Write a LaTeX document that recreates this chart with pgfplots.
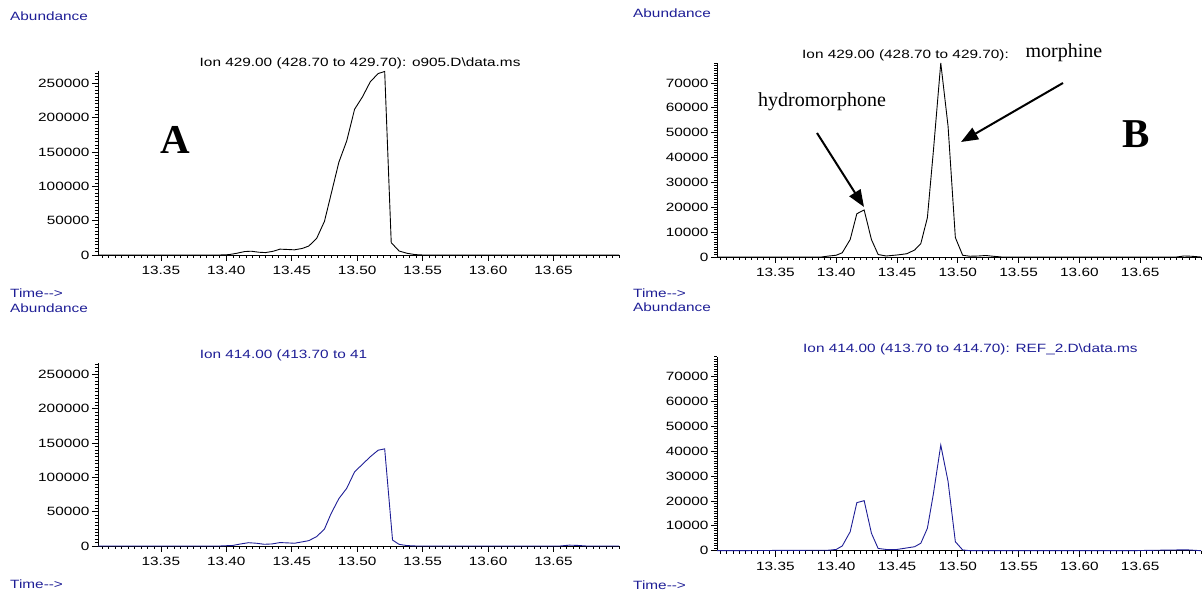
\documentclass[border=0pt]{standalone}
\usepackage{fontspec}
\setmainfont{Liberation Serif}
\newfontfamily\chem{Liberation Sans}[FakeStretch=1.28]
\usepackage{pgfplots}
\pgfplotsset{compat=1.18}
\usetikzlibrary{arrows.meta}
\definecolor{navy}{RGB}{30,30,150}

\newcommand{\sml}{\chem\fontsize{12}{13}\selectfont}

\pgfplotsset{
  chrom/.style={
    scale only axis, anchor=south west, clip=false,
    axis x line=bottom, axis y line=left,
    axis line style={-, line width=0.8pt, black},
    xmin=13.302, xmax=13.700, ymin=0,
    xtick={13.35,13.40,13.45,13.50,13.55,13.60,13.65},
    minor xtick={13.305,13.310,...,13.700},
    tick align=outside, major tick length=6pt, minor tick length=3pt,
    tick style={black, line width=0.6pt},
    scaled x ticks=false, scaled y ticks=false,
    tick label style={font=\sml, black},
    /pgf/number format/assume math mode=true,
    xticklabel style={yshift=-2pt, /pgf/number format/fixed, /pgf/number format/fixed zerofill,
                      /pgf/number format/precision=2},
    yticklabel style={xshift=1pt, /pgf/number format/fixed, /pgf/number format/1000 sep={}},
  },
  wide/.style={width=521pt, ymax=267000,
    ytick={0,50000,...,250000}, minor ytick={5000,10000,...,265000}},
  narrow/.style={width=484pt, ymax=78000,
    ytick={0,10000,...,70000}, minor ytick={1000,2000,...,78000}},
}

\begin{document}
\begin{tikzpicture}[x=1pt,y=1pt]
\useasboundingbox (0,0) rectangle (1202,593);

% top left: ion 429, sample
\begin{axis}[chrom, wide, at={(98pt,338pt)}, height=183.5pt]
\addplot[black, line width=0.9pt] coordinates {
  (13.302,0) (13.395,0) (13.402,500) (13.408,2500) (13.414,5000) (13.419,5500)
  (13.425,4000) (13.430,3500) (13.436,5500) (13.441,8500) (13.447,8000)
  (13.452,7500) (13.458,9500) (13.463,13000) (13.469,24000) (13.475,49000)
  (13.480,88000) (13.486,135000) (13.492,166000) (13.498,212000) (13.504,230000)
  (13.510,252000) (13.516,264000) (13.521,267000) (13.526,18000) (13.532,5800)
  (13.538,2500) (13.544,600) (13.550,0) (13.700,0) };
\end{axis}

% top right: ion 429, reference
\begin{axis}[chrom, narrow, at={(717pt,336pt)}, height=194pt]
\addplot[black, line width=0.9pt] coordinates {
  (13.302,0) (13.388,0) (13.394,400) (13.400,700) (13.405,1700) (13.4115,7000)
  (13.417,17400) (13.423,18900) (13.429,7000) (13.4345,1000) (13.441,400)
  (13.450,800) (13.458,1300) (13.4645,2800) (13.4696,5400) (13.475,15800)
  (13.480,43000) (13.486,78000) (13.492,52600) (13.498,7800) (13.504,700)
  (13.510,300) (13.517,400) (13.523,600) (13.529,300) (13.536,0) (13.680,0)
  (13.686,400) (13.692,300) (13.700,0) };
\end{axis}

% bottom left: ion 414, sample
\begin{axis}[chrom, wide, at={(98pt,47pt)}, height=183.3pt]
\addplot[navy, line width=0.9pt] coordinates {
  (13.302,0) (13.395,0) (13.405,800) (13.411,3000) (13.417,4800) (13.423,4000)
  (13.429,2500) (13.435,3000) (13.441,5000) (13.447,4500) (13.452,4000)
  (13.458,6000) (13.463,7800) (13.469,13600) (13.475,24700) (13.480,47000)
  (13.486,69000) (13.492,84000) (13.498,108000) (13.504,119000) (13.510,130000)
  (13.516,139500) (13.521,141500) (13.527,8700) (13.532,2400) (13.538,600)
  (13.545,0) (13.655,0) (13.662,1200) (13.668,900) (13.675,0) (13.700,0) };
\end{axis}

% bottom right: ion 414, reference
\begin{axis}[chrom, narrow, at={(717pt,42.3pt)}, height=194.2pt]
\addplot[navy, line width=0.9pt] coordinates {
  (13.302,0) (13.394,200) (13.400,500) (13.405,1900) (13.4115,7600)
  (13.417,19300) (13.423,20100) (13.429,7000) (13.4345,900) (13.441,500)
  (13.450,500) (13.458,1100) (13.4645,1600) (13.4696,3000) (13.475,9000)
  (13.480,23000) (13.486,42400) (13.492,27800) (13.498,3600) (13.504,300)
  (13.510,0) (13.640,0) (13.680,300) (13.690,300) (13.700,0) };
\end{axis}

% labels round the panels
\begin{scope}[every node/.style={font=\sml, inner sep=0pt, anchor=west}]
  \node[navy] at (10,577) {Abundance};
  \node[navy] at (633,580) {Abundance};
  \node[navy] at (10,285) {Abundance};
  \node[navy] at (633,286) {Abundance};
  \node[navy] at (10,300) {Time-{}-{}>};
  \node[navy] at (633,300) {Time-{}-{}>};
  \node[navy] at (10,9) {Time-{}-{}>};
  \node[navy] at (633,7.5) {Time-{}-{}>};
  \node[black] at (199.5,530) {Ion 429.00 (428.70 to 429.70): o905.D\textbackslash data.ms};
  \node[black] at (802,538) {Ion 429.00 (428.70 to 429.70):};
  \node[navy] at (199.6,238) {Ion 414.00 (413.70 to 41};
  \node[navy] at (803,244) {Ion 414.00 (413.70 to 414.70): REF\_2.D\textbackslash data.ms};
\end{scope}

% annotations
\node[font=\fontsize{41}{41}\selectfont\bfseries, inner sep=0pt] at (175,453) {A};
\node[font=\fontsize{41}{41}\selectfont\bfseries, inner sep=0pt] at (1136,459) {B};
\node[font=\fontsize{20}{20}\selectfont, inner sep=0pt] at (822,491) {hydromorphone};
\node[font=\fontsize{20}{20}\selectfont, inner sep=0pt] at (1064,540) {morphine};
\draw[line width=2pt, -{Triangle[length=17pt,width=13pt]}] (817,460) -- (864,386);
\draw[line width=2pt, -{Triangle[length=17pt,width=13pt]}] (1063,510) -- (961,451);
\end{tikzpicture}
\end{document}
